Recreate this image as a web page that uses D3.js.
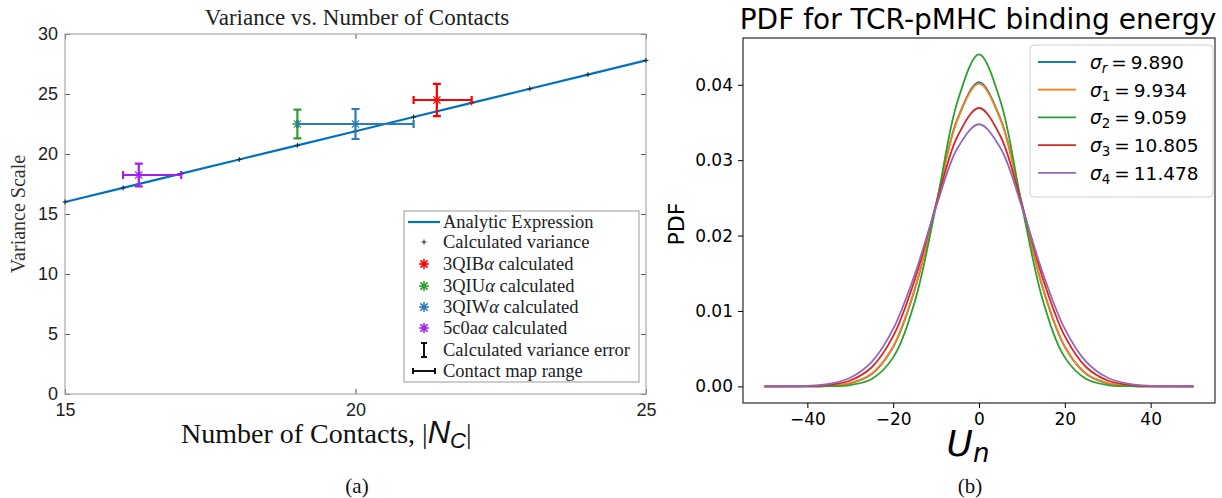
<!DOCTYPE html>
<html>
<head>
<meta charset="utf-8">
<script src="https://cdn.jsdelivr.net/npm/d3@7"></script>
<style>
  body { margin: 0; background: #fff; }
  svg { display: block; }
</style>
</head>
<body>
<div id="chart"></div>
<script>
// ---- panel (a) data ----
const contacts = [15, 16, 17, 18, 19, 20, 21, 22, 23, 24, 25];
const calcVariance = [16.0, 17.18, 18.36, 19.54, 20.72, 21.9, 23.08, 24.26, 25.44, 26.62, 27.8];

const proteins = ["3QIB", "3QIU", "3QIW", "5c0a"];
const proteinColors = ["#ff0000", "#2ca02c", "#2b7bba", "#a020f0"];
const proteinContacts = [21.4, 19.0, 20.0, 16.27];
const proteinVariance = [24.5, 22.5, 22.5, 18.25];
const varianceError = [1.35, 1.2, 1.25, 0.95];
const contactMin = [21, 19, 19, 16];
const contactMax = [22, 19, 21, 17];

const xTicksA = [15, 20, 25];
const yTicksA = [0, 5, 10, 15, 20, 25, 30];

// ---- panel (b) data ----
const energy = [-50, -45, -40, -35, -30, -25, -20, -15, -10, -5, 0, 5, 10, 15, 20, 25, 30, 35, 40, 45, 50];
const sigmaNames = ["r", "1", "2", "3", "4"];
const sigmaValues = ["9.890", "9.934", "9.059", "10.805", "11.478"];
const pdfColors = ["#1f77b4", "#ff7f0e", "#2ca02c", "#d62728", "#9467bd"];
const pdfR = [0, 0.000001, 0.000011, 0.000077, 0.000405, 0.00165, 0.00522, 0.01277, 0.0242, 0.0355, 0.04034, 0.0355, 0.0242, 0.01277, 0.00522, 0.00165, 0.000405, 0.000077, 0.000011, 0.000001, 0];
const pdf1 = [0, 0.000001, 0.000012, 0.000081, 0.00042, 0.00169, 0.0053, 0.01285, 0.0242, 0.03538, 0.04016, 0.03538, 0.0242, 0.01285, 0.0053, 0.00169, 0.00042, 0.000081, 0.000012, 0.000001, 0];
const pdf2 = [0, 0, 0.000003, 0.000025, 0.000183, 0.000977, 0.00385, 0.01118, 0.02394, 0.03782, 0.04404, 0.03782, 0.02394, 0.01118, 0.00385, 0.000977, 0.000183, 0.000025, 0.000003, 0, 0];
const pdf3 = [0.000001, 0.000006, 0.000039, 0.000195, 0.000782, 0.00254, 0.00666, 0.01409, 0.02406, 0.03317, 0.03692, 0.03317, 0.02406, 0.01409, 0.00666, 0.00254, 0.000782, 0.000195, 0.000039, 0.000006, 0.000001];
const pdf4 = [0.000003, 0.000016, 0.00008, 0.000333, 0.00114, 0.00324, 0.00762, 0.0148, 0.02378, 0.03161, 0.03476, 0.03161, 0.02378, 0.0148, 0.00762, 0.00324, 0.00114, 0.000333, 0.00008, 0.000016, 0.000003];
const pdfSeries = [pdfR, pdf1, pdf2, pdf3, pdf4];

const xTicksB = [-40, -20, 0, 20, 40];
const yTicksB = [0, 0.01, 0.02, 0.03, 0.04];

const serif = "'Liberation Serif', 'DejaVu Serif', serif";
const sans = "'Liberation Sans', Arial, sans-serif";
const dsans = "'DejaVu Sans', sans-serif";

var svg = d3.select("#chart").append("svg")
  .attr("width", 1222).attr("height", 498);

// ================= panel (a) =================
var A = {left: 65, top: 34, width: 581, height: 360};
var ga = svg.append("g").attr("transform", "translate(" + A.left + "," + A.top + ")");

var xa = d3.scaleLinear().domain([15, 25]).range([0, A.width]);
var ya = d3.scaleLinear().domain([0, 30]).range([A.height, 0]);

// inward ticks on all four sides
function styleAxis(g) {
  g.select(".domain").remove();
  g.selectAll(".tick line").attr("stroke", "#555");
}
ga.append("g").call(d3.axisLeft(ya).tickValues(yTicksA).tickSize(-5).tickPadding(7))
  .call(styleAxis)
  .selectAll("text").style("font-family", sans).style("font-size", "18px").attr("fill", "#222");
ga.append("g").attr("transform", "translate(" + A.width + ",0)")
  .call(d3.axisRight(ya).tickValues(yTicksA).tickSize(-5).tickFormat(""))
  .call(styleAxis);
ga.append("g").attr("transform", "translate(0," + A.height + ")")
  .call(d3.axisBottom(xa).tickValues(xTicksA).tickSize(-5).tickPadding(9))
  .call(styleAxis)
  .selectAll("text").style("font-family", sans).style("font-size", "18px").attr("fill", "#222");
ga.append("g")
  .call(d3.axisTop(xa).tickValues(xTicksA).tickSize(-5).tickFormat(""))
  .call(styleAxis);

ga.append("rect").attr("width", A.width).attr("height", A.height)
  .attr("fill", "none").attr("stroke", "#a8a8a8").attr("stroke-width", 1.2);

// analytic expression
ga.append("path")
  .datum(contacts.map((c, i) => [c, calcVariance[i]]))
  .attr("d", d3.line().x(d => xa(d[0])).y(d => ya(d[1])))
  .attr("fill", "none").attr("stroke", "#0072bd").attr("stroke-width", 2.2);

// calculated variance points
function plusPath(r) { return "M" + (-r) + ",0H" + r + "M0," + (-r) + "V" + r; }
function starPath(r) {
  var d = r * 0.72;
  return "M" + (-r) + ",0H" + r + "M0," + (-r) + "V" + r +
    "M" + (-d) + "," + (-d) + "L" + d + "," + d + "M" + (-d) + "," + d + "L" + d + "," + (-d);
}
ga.selectAll(".calc").data(contacts).enter().append("path")
  .attr("class", "calc")
  .attr("transform", (c, i) => "translate(" + xa(c) + "," + ya(calcVariance[i]) + ")")
  .attr("d", plusPath(2.5)).attr("stroke", "#222").attr("stroke-width", 1);

// error bars per protein
proteins.forEach(function(p, i) {
  var col = proteinColors[i];
  var g = ga.append("g").attr("stroke", col).attr("stroke-width", 2.2).attr("fill", "none");
  var cx = xa(proteinContacts[i]), cy = ya(proteinVariance[i]);
  var y0 = ya(proteinVariance[i] - varianceError[i]), y1 = ya(proteinVariance[i] + varianceError[i]);
  var x0 = xa(contactMin[i]), x1 = xa(contactMax[i]);
  var cap = 4;
  g.append("path").attr("d", "M" + cx + "," + y0 + "V" + y1 +
    "M" + (cx - cap) + "," + y0 + "H" + (cx + cap) + "M" + (cx - cap) + "," + y1 + "H" + (cx + cap));
  g.append("path").attr("d", "M" + x0 + "," + cy + "H" + x1 +
    "M" + x0 + "," + (cy - cap) + "V" + (cy + cap) + "M" + x1 + "," + (cy - cap) + "V" + (cy + cap));
  g.append("path").attr("transform", "translate(" + cx + "," + cy + ")")
    .attr("d", starPath(5)).attr("stroke-width", 1.3);
});

// legend (a)
var la = svg.append("g").attr("transform", "translate(404,211)");
la.append("rect").attr("width", 235).attr("height", 171)
  .attr("fill", "#fff").attr("stroke", "#999").attr("stroke-width", 1);
var legA = [
  {t: "Analytic Expression", k: "line"},
  {t: "Calculated variance", k: "plus"},
  {t: proteins[0], k: "star", c: proteinColors[0], a: true},
  {t: proteins[1], k: "star", c: proteinColors[1], a: true},
  {t: proteins[2], k: "star", c: proteinColors[2], a: true},
  {t: proteins[3], k: "star", c: proteinColors[3], a: true},
  {t: "Calculated variance error", k: "vbar"},
  {t: "Contact map range", k: "hbar"}
];
var legY = [11, 31, 53, 75, 96, 117, 139, 160];
legA.forEach(function(e, i) {
  var yy = legY[i], sx = 20;
  if (e.k == "line") la.append("line").attr("x1", 4).attr("x2", 36).attr("y1", yy).attr("y2", yy)
    .attr("stroke", "#0072bd").attr("stroke-width", 2.2);
  if (e.k == "plus") la.append("path").attr("transform", "translate(" + sx + "," + yy + ")")
    .attr("d", plusPath(2.5)).attr("stroke", "#222");
  if (e.k == "star") la.append("path").attr("transform", "translate(" + sx + "," + yy + ")")
    .attr("d", starPath(5)).attr("stroke", e.c).attr("stroke-width", 1.6);
  if (e.k == "vbar") la.append("path")
    .attr("d", "M" + sx + "," + (yy - 7) + "V" + (yy + 7) + "M" + (sx - 3) + "," + (yy - 7) + "H" + (sx + 3) + "M" + (sx - 3) + "," + (yy + 7) + "H" + (sx + 3))
    .attr("stroke", "#111").attr("stroke-width", 2);
  if (e.k == "hbar") la.append("path")
    .attr("d", "M" + (sx - 11) + "," + yy + "H" + (sx + 11) + "M" + (sx - 11) + "," + (yy - 3) + "V" + (yy + 3) + "M" + (sx + 11) + "," + (yy - 3) + "V" + (yy + 3))
    .attr("stroke", "#111").attr("stroke-width", 2);
  var t = la.append("text").attr("x", 39).attr("y", yy + 6)
    .style("font-family", serif).style("font-size", "18.5px").attr("fill", "#222");
  if (e.a) {
    t.append("tspan").text(e.t);
    t.append("tspan").style("font-style", "italic").text("α");
    t.append("tspan").text(" calculated");
  } else t.text(e.t);
});

// titles & labels (a)
svg.append("text").attr("x", 357).attr("y", 25).attr("text-anchor", "middle")
  .style("font-family", serif).style("font-size", "23px").attr("fill", "#222")
  .text("Variance vs. Number of Contacts");
svg.append("text").attr("transform", "translate(25,214) rotate(-90)").attr("text-anchor", "middle")
  .style("font-family", serif).style("font-size", "20px").attr("fill", "#333")
  .text("Variance Scale");
var xl = svg.append("text").attr("x", 181).attr("y", 443)
  .style("font-family", serif).style("font-size", "28px").attr("fill", "#111");
xl.append("tspan").text("Number of Contacts, |");
xl.append("tspan").style("font-family", sans).style("font-style", "italic").style("font-size", "31px").text("N");
xl.append("tspan").style("font-family", sans).style("font-style", "italic").style("font-size", "22px").attr("dy", 5).text("C");
xl.append("tspan").attr("dy", -5).text("|");
svg.append("text").attr("x", 357).attr("y", 493).attr("text-anchor", "middle")
  .style("font-family", serif).style("font-size", "21px").attr("fill", "#111").text("(a)");

// ================= panel (b) =================
var B = {left: 743, top: 38, width: 472, height: 365};
var gb = svg.append("g").attr("transform", "translate(" + B.left + "," + B.top + ")");
var xb = d3.scaleLinear().domain([-55, 55]).range([0, B.width]);
var yb = d3.scaleLinear().domain([-0.0022, 0.0462]).range([B.height, 0]);

gb.append("g").attr("transform", "translate(0," + B.height + ")")
  .call(d3.axisBottom(xb).tickValues(xTicksB).tickSize(5).tickPadding(5).tickFormat(d => d < 0 ? "\u2212" + Math.abs(d) : d))
  .call(g => g.select(".domain").remove())
  .selectAll("text").style("font-family", dsans).style("font-size", "17px").attr("fill", "#000");
gb.append("g")
  .call(d3.axisLeft(yb).tickValues(yTicksB).tickSize(5).tickPadding(5).tickFormat(d3.format(".2f")))
  .call(g => g.select(".domain").remove())
  .selectAll("text").style("font-family", dsans).style("font-size", "17px").attr("fill", "#000");

var lineB = d3.line().x((d, i) => xb(energy[i])).y(d => yb(d)).curve(d3.curveCatmullRom);
pdfSeries.forEach(function(s, i) {
  gb.append("path").datum(s).attr("d", lineB)
    .attr("fill", "none").attr("stroke", pdfColors[i]).attr("stroke-width", 1.8);
});

gb.append("rect").attr("width", B.width).attr("height", B.height)
  .attr("fill", "none").attr("stroke", "#000").attr("stroke-width", 1);

// legend (b)
var lb = svg.append("g").attr("transform", "translate(1030,45)");
lb.append("rect").attr("width", 183).attr("height", 152).attr("rx", 4)
  .attr("fill", "#fff").attr("fill-opacity", 0.85).attr("stroke", "#d0d0d0");
sigmaNames.forEach(function(n, i) {
  var yy = 17 + i * 27.7;
  lb.append("line").attr("x1", 8).attr("x2", 46).attr("y1", yy).attr("y2", yy)
    .attr("stroke", pdfColors[i]).attr("stroke-width", 1.8);
  var t = lb.append("text").attr("x", 60).attr("y", yy + 7)
    .style("font-family", dsans).style("font-size", "18.5px").attr("fill", "#000");
  t.append("tspan").style("font-style", "oblique").text("σ");
  t.append("tspan").style("font-size", "13.5px").style("font-style", n == "r" ? "oblique" : "normal")
    .attr("dy", 4).text(n);
  t.append("tspan").attr("dy", -4).attr("dx", 4).text("=" );
  t.append("tspan").attr("dx", 4).text(sigmaValues[i]);
});

svg.append("text").attr("x", 978).attr("y", 29).attr("text-anchor", "middle")
  .style("font-family", dsans).style("font-size", "28px").attr("fill", "#000")
  .text("PDF for TCR-pMHC binding energy");
svg.append("text").attr("transform", "translate(684,224) rotate(-90)").attr("text-anchor", "middle")
  .style("font-family", dsans).style("font-size", "22px").attr("fill", "#000").text("PDF");
var ul = svg.append("text").attr("x", 968).attr("y", 456).attr("text-anchor", "middle")
  .style("font-family", dsans).style("font-style", "italic").attr("fill", "#000");
ul.append("tspan").style("font-size", "36px").text("U");
ul.append("tspan").style("font-size", "26px").attr("dy", 6).text("n");
svg.append("text").attr("x", 970).attr("y", 493).attr("text-anchor", "middle")
  .style("font-family", serif).style("font-size", "21px").attr("fill", "#111").text("(b)");
</script>
</body>
</html>
